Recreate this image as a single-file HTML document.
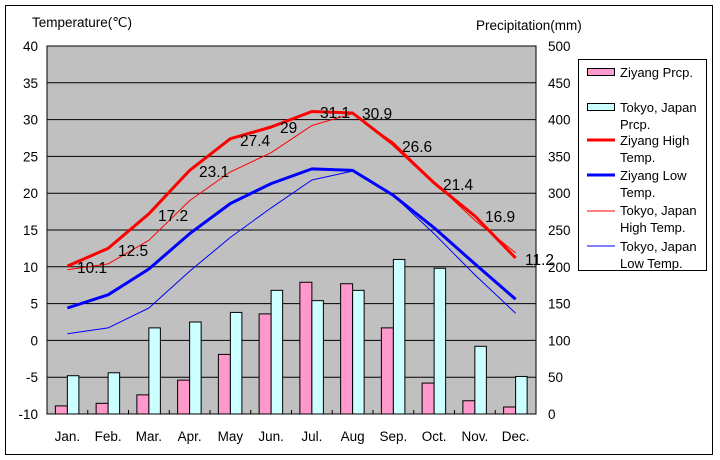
<!DOCTYPE html>
<html><head><meta charset="utf-8"><style>
body{margin:0;background:#fff;}
svg{display:block;font-family:"Liberation Sans",sans-serif;}
</style></head><body>
<svg id="s" width="720" height="460" xmlns="http://www.w3.org/2000/svg"></svg>
<script>
var s=document.getElementById('s');var h='';
h+='<rect x="5.5" y="5.5" width="707" height="449" fill="#fff" stroke="#000" stroke-width="1"/>';
var L=47,R=536,T=46,B=414,W=(R-L)/12;
h+='<rect x="'+L+'" y="'+T+'" width="'+(R-L)+'" height="'+(B-T)+'" fill="#c0c0c0"/>';
function ty(t){return B-(t+10)*7.36;}
function py(p){return B-p*0.736;}
for(var i=0;i<=10;i++){var y=T+i*36.8;h+='<line x1="'+L+'" x2="'+R+'" y1="'+y+'" y2="'+y+'" stroke="#000"/>';
h+='<text x="38" y="'+(y+5)+'" font-size="13.5" text-anchor="end">'+(40-i*5)+'</text>';
h+='<text x="548" y="'+(y+5)+'" font-size="13.5">'+(500-i*50)+'</text>';}
var zp=[11,14.5,26,46,81,136,179,177,117,42,18,9.5],tp=[52,56,117,125,138,168,154,168,210,198,92,51];
var m=['Jan.','Feb.','Mar.','Apr.','May','Jun.','Jul.','Aug','Sep.','Oct.','Nov.','Dec.'];
for(var i=0;i<12;i++){var c=L+W*(i+0.5);
h+='<rect x="'+(c-12)+'" y="'+py(zp[i])+'" width="12" height="'+(B-py(zp[i]))+'" fill="#ff99cc" stroke="#000"/>';
h+='<rect x="'+c+'" y="'+py(tp[i])+'" width="11.5" height="'+(B-py(tp[i]))+'" fill="#ccffff" stroke="#000"/>';
h+='<text x="'+c+'" y="441" font-size="13.5" text-anchor="middle">'+m[i]+'</text>';
h+='<line x1="'+(L+W*(i+1))+'" x2="'+(L+W*(i+1))+'" y1="'+B+'" y2="'+(B-4)+'" stroke="#000"/>';}
h+='<rect x="'+L+'" y="'+T+'" width="'+(R-L)+'" height="'+(B-T)+'" fill="none" stroke="#000"/>';
function line(d,col,w){var p=d.map(function(t,i){return (L+W*(i+0.5)).toFixed(1)+','+ty(t).toFixed(1)}).join(' ');
h+='<polyline points="'+p+'" fill="none" stroke="'+col+'" stroke-width="'+w+'" stroke-linejoin="round"/>';}
line([9.6,10.4,13.6,19.0,22.9,25.5,29.2,30.8,26.9,21.5,16.3,11.9],'#ff0000',1);
line([0.9,1.7,4.4,9.4,14.0,18.0,21.8,23.0,19.7,14.5,8.9,3.7],'#0000ff',1);
var zh=[10.1,12.5,17.2,23.1,27.4,29,31.1,30.9,26.6,21.4,16.9,11.2];
line(zh,'#ff0000',3);
line([4.4,6.2,9.7,14.5,18.6,21.3,23.3,23.1,19.7,15.3,10.4,5.6],'#0000ff',3);
var lx=[77,118,158,199,240,280,320,362,402,443,485,525],ly=[273,256,221,177,146,133,118,119,152,190,222,265];
for(var i=0;i<12;i++)h+='<text x="'+lx[i]+'" y="'+ly[i]+'" font-size="15.5">'+zh[i]+'</text>';
h+='<text x="32" y="27" font-size="13.5">Temperature(℃)</text>';
h+='<text x="476" y="30" font-size="13.5">Precipitation(mm)</text>';
h+='<rect x="578.5" y="59.5" width="128" height="211" fill="#fff" stroke="#000"/>';
h+='<rect x="587.5" y="68.5" width="27" height="7" fill="#ff99cc" stroke="#000"/>';
h+='<rect x="587.5" y="103.5" width="27" height="7" fill="#ccffff" stroke="#000"/>';
h+='<line x1="587" x2="615" y1="140" y2="140" stroke="#f00" stroke-width="3"/>';
h+='<line x1="587" x2="615" y1="175" y2="175" stroke="#00f" stroke-width="3"/>';
h+='<line x1="587" x2="615" y1="211" y2="211" stroke="#f00" stroke-width="1"/>';
h+='<line x1="587" x2="615" y1="246" y2="246" stroke="#00f" stroke-width="1"/>';
var lt=[['Ziyang Prcp.',77],['Tokyo, Japan',112],['Prcp.',129],['Ziyang High',145],['Temp.',162],['Ziyang Low',180],['Temp.',197],['Tokyo, Japan',215],['High Temp.',232],['Tokyo, Japan',251],['Low Temp.',268]];
lt.forEach(function(a){h+='<text x="620" y="'+a[1]+'" font-size="13">'+a[0]+'</text>';});
s.innerHTML=h;
</script>
</body></html>
